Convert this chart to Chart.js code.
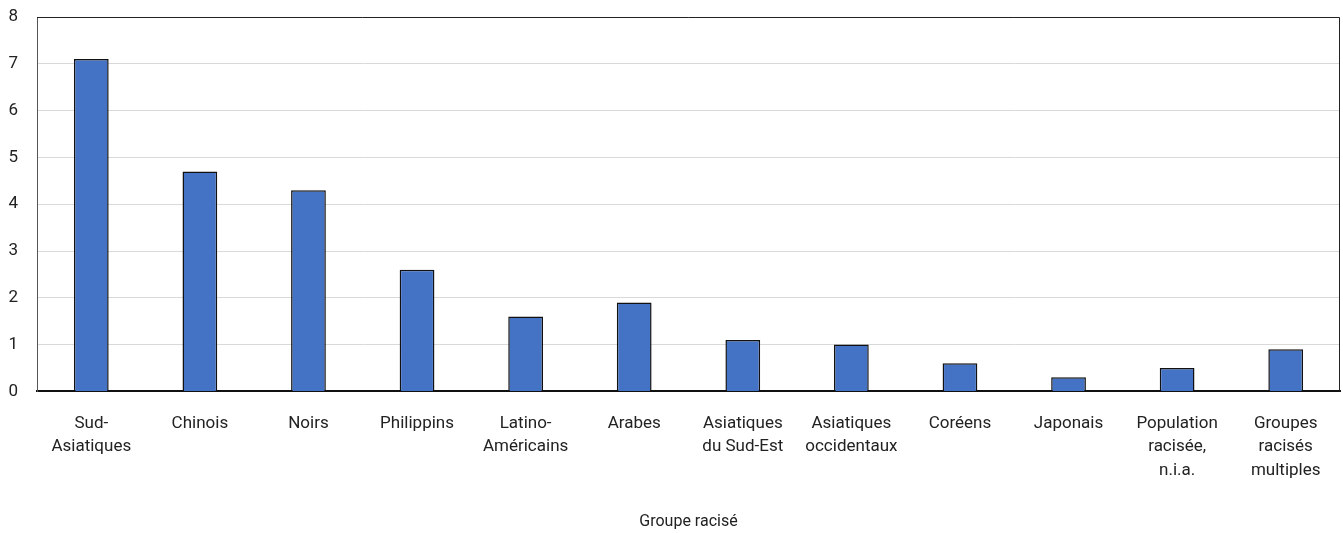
<!DOCTYPE html>
<html>
<head>
<meta charset="utf-8">
<script src="https://cdn.jsdelivr.net/npm/chart.js@4"></script>
<style>
  html, body { margin: 0; padding: 0; background: #fff; }
  #wrap { width: 1343px; height: 533px; }
</style>
</head>
<body>
<div id="wrap"><canvas id="chart"></canvas></div>
<script>
const categories = [
    ['Sud-', 'Asiatiques'],
    'Chinois',
    'Noirs',
    'Philippins',
    ['Latino-', 'Américains'],
    'Arabes',
    ['Asiatiques', 'du Sud-Est'],
    ['Asiatiques', 'occidentaux'],
    'Coréens',
    'Japonais',
    ['Population', 'racisée,', 'n.i.a.'],
    ['Groupes', 'racisés', 'multiples']
];
const values = [7.1, 4.7, 4.3, 2.6, 1.6, 1.9, 1.1, 1.0, 0.6, 0.3, 0.5, 0.9];
const yTicks = [0, 1, 2, 3, 4, 5, 6, 7, 8];
const xTitle = 'Groupe racisé';

const fontFamily = '"Roboto", "Liberation Sans", sans-serif';

// frame around the plot area (top and right sides)
const frame = {
    id: 'frame',
    afterDraw(chart) {
        const { ctx, chartArea: a } = chart;
        ctx.save();
        ctx.strokeStyle = '#222';
        ctx.lineWidth = 1;
        ctx.beginPath();
        ctx.moveTo(a.left, a.top + 0.5);
        ctx.lineTo(a.right - 0.5, a.top + 0.5);
        ctx.lineTo(a.right - 0.5, a.bottom);
        ctx.stroke();
        ctx.restore();
    }
};

new Chart(document.getElementById('chart'), {
    type: 'bar',
    data: {
        labels: categories,
        datasets: [{
            data: values,
            backgroundColor: '#4472c4',
            borderColor: '#111',
            borderWidth: 1.5,
            categoryPercentage: 1,
            barPercentage: 0.32
        }]
    },
    options: {
        responsive: true,
        maintainAspectRatio: false,
        animation: false,
        layout: { padding: { top: 17, right: 3, left: 0, bottom: 1 } },
        plugins: {
            legend: { display: false },
            tooltip: { enabled: false }
        },
        scales: {
            x: {
                afterFit: axis => { axis.paddingLeft = 0; axis.paddingRight = 0; },
                grid: { display: false },
                border: { color: '#111', width: 2 },
                ticks: {
                    color: '#222',
                    font: { family: fontFamily, size: 17, lineHeight: 1.4 },
                    maxRotation: 0,
                    autoSkip: false,
                    padding: 12
                },
                title: {
                    display: true,
                    text: xTitle,
                    color: '#222',
                    font: { family: fontFamily, size: 16, lineHeight: 1.2 },
                    padding: { top: 18, bottom: 0 }
                }
            },
            y: {
                min: 0,
                max: 8,
                afterBuildTicks: axis => { axis.ticks = yTicks.map(v => ({ value: v })); },
                afterFit: axis => { axis.width = 37; axis.paddingTop = 0; axis.paddingBottom = 0; },
                grid: { color: '#d9d9d9', lineWidth: 1, drawTicks: false },
                border: { color: '#555', width: 1 },
                ticks: {
                    color: '#222',
                    font: { family: fontFamily, size: 17 },
                    padding: 19
                }
            }
        }
    },
    plugins: [frame]
});
</script>
</body>
</html>
